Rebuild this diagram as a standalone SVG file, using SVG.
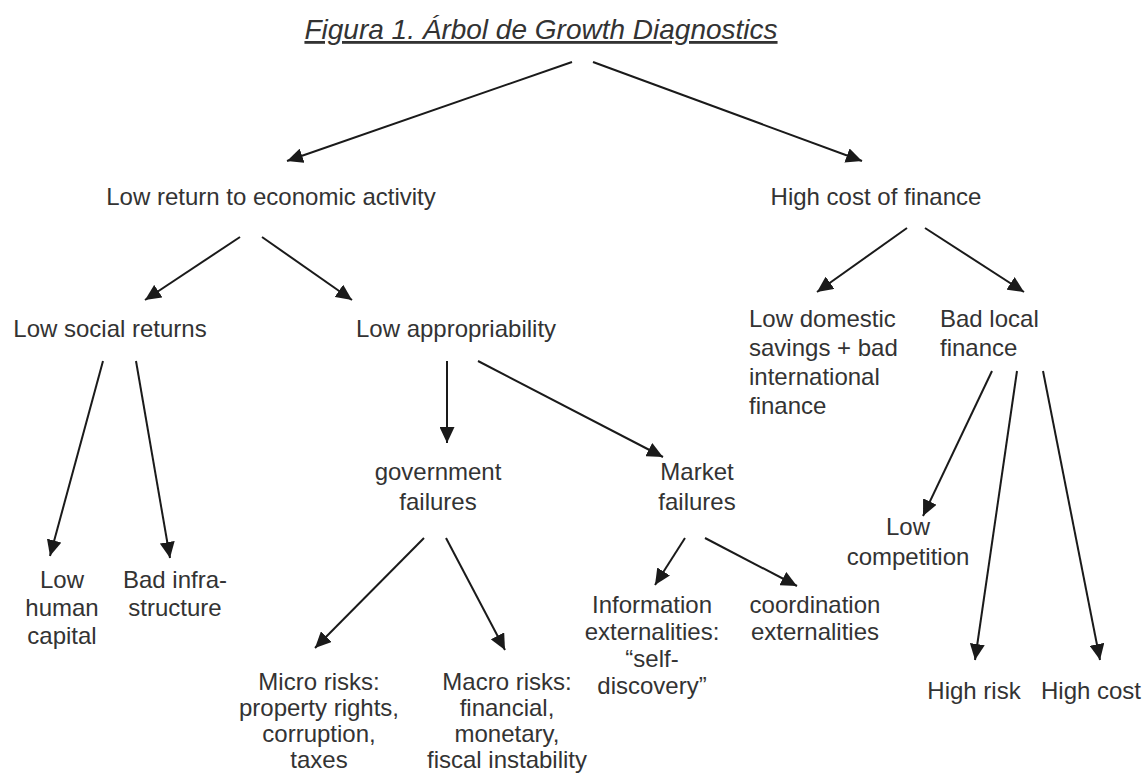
<svg xmlns="http://www.w3.org/2000/svg" width="1145" height="774" viewBox="0 0 1145 774">
<defs>
<marker id="ah" markerUnits="userSpaceOnUse" markerWidth="17" markerHeight="15" refX="16" refY="7.5" orient="auto">
<path d="M0,0 L16,7.5 L0,15 Z" fill="#1a1a1a"/>
</marker>
<style>
text{font-family:"Liberation Sans",Arial,sans-serif;font-size:24px;fill:#333;}
.t{font-style:italic;font-size:28px;text-decoration:underline;}
.c{text-anchor:middle;}
.e line{stroke:#1a1a1a;stroke-width:2;marker-end:url(#ah);}
</style>
</defs>
<rect width="1145" height="774" fill="#fff"/>
<g id="title"><text class="t c" x="541" y="39">Figura 1. Árbol de Growth Diagnostics</text></g>
<g id="n-lowreturn"><text class="c" x="271" y="205">Low return to economic activity</text></g>
<g id="n-highcost"><text class="c" x="876" y="205">High cost of finance</text></g>
<g id="n-lowsocial"><text class="c" x="110" y="337">Low social returns</text></g>
<g id="n-lowapprop"><text class="c" x="456" y="337">Low appropriability</text></g>
<g id="n-lowdomestic"><text x="749" y="327"><tspan x="749">Low domestic</tspan><tspan x="749" dy="29">savings + bad</tspan><tspan x="749" dy="29">international</tspan><tspan x="749" dy="29">finance</tspan></text></g>
<g id="n-badlocal"><text x="940" y="327"><tspan x="940">Bad local</tspan><tspan x="940" dy="29">finance</tspan></text></g>
<g id="n-gov"><text class="c" x="438" y="480"><tspan x="438">government</tspan><tspan x="438" dy="30">failures</tspan></text></g>
<g id="n-market"><text class="c" x="697" y="480"><tspan x="697">Market</tspan><tspan x="697" dy="30">failures</tspan></text></g>
<g id="n-human"><text class="c" x="62" y="588"><tspan x="62">Low</tspan><tspan x="62" dy="28">human</tspan><tspan x="62" dy="28">capital</tspan></text></g>
<g id="n-infra"><text class="c" x="175" y="588"><tspan x="175">Bad infra-</tspan><tspan x="175" dy="28">structure</tspan></text></g>
<g id="n-competition"><text class="c" x="908" y="535"><tspan x="908">Low</tspan><tspan x="908" dy="30">competition</tspan></text></g>
<g id="n-info"><text class="c" x="652" y="613"><tspan x="652">Information</tspan><tspan x="652" dy="27">externalities:</tspan><tspan x="652" dy="27">“self-</tspan><tspan x="652" dy="27">discovery”</tspan></text></g>
<g id="n-coord"><text class="c" x="815" y="613"><tspan x="815">coordination</tspan><tspan x="815" dy="27">externalities</tspan></text></g>
<g id="n-micro"><text class="c" x="319" y="690"><tspan x="319">Micro risks:</tspan><tspan x="319" dy="26">property rights,</tspan><tspan x="319" dy="26">corruption,</tspan><tspan x="319" dy="26">taxes</tspan></text></g>
<g id="n-macro"><text class="c" x="507" y="690"><tspan x="507">Macro risks:</tspan><tspan x="507" dy="26">financial,</tspan><tspan x="507" dy="26">monetary,</tspan><tspan x="507" dy="26">fiscal instability</tspan></text></g>
<g id="n-highrisk"><text class="c" x="974" y="699">High risk</text></g>
<g id="n-highcost2"><text class="c" x="1091" y="699">High cost</text></g>
<g id="edges" class="e">
<line x1="572" y1="62" x2="287" y2="161"/>
<line x1="593" y1="62" x2="862" y2="161"/>
<line x1="240" y1="237" x2="145" y2="300"/>
<line x1="262" y1="237" x2="352" y2="300"/>
<line x1="907" y1="228" x2="817" y2="292"/>
<line x1="925" y1="228" x2="1024" y2="292"/>
<line x1="103" y1="361" x2="50" y2="556"/>
<line x1="136" y1="361" x2="170" y2="558"/>
<line x1="447" y1="361" x2="447" y2="443"/>
<line x1="478" y1="361" x2="663" y2="457"/>
<line x1="424" y1="538" x2="315" y2="648"/>
<line x1="446" y1="538" x2="505" y2="650"/>
<line x1="685" y1="538" x2="655" y2="585"/>
<line x1="705" y1="538" x2="797" y2="586"/>
<line x1="992" y1="371" x2="923" y2="516"/>
<line x1="1017" y1="371" x2="975" y2="660"/>
<line x1="1043" y1="371" x2="1100" y2="660"/>
</g>
</svg>
